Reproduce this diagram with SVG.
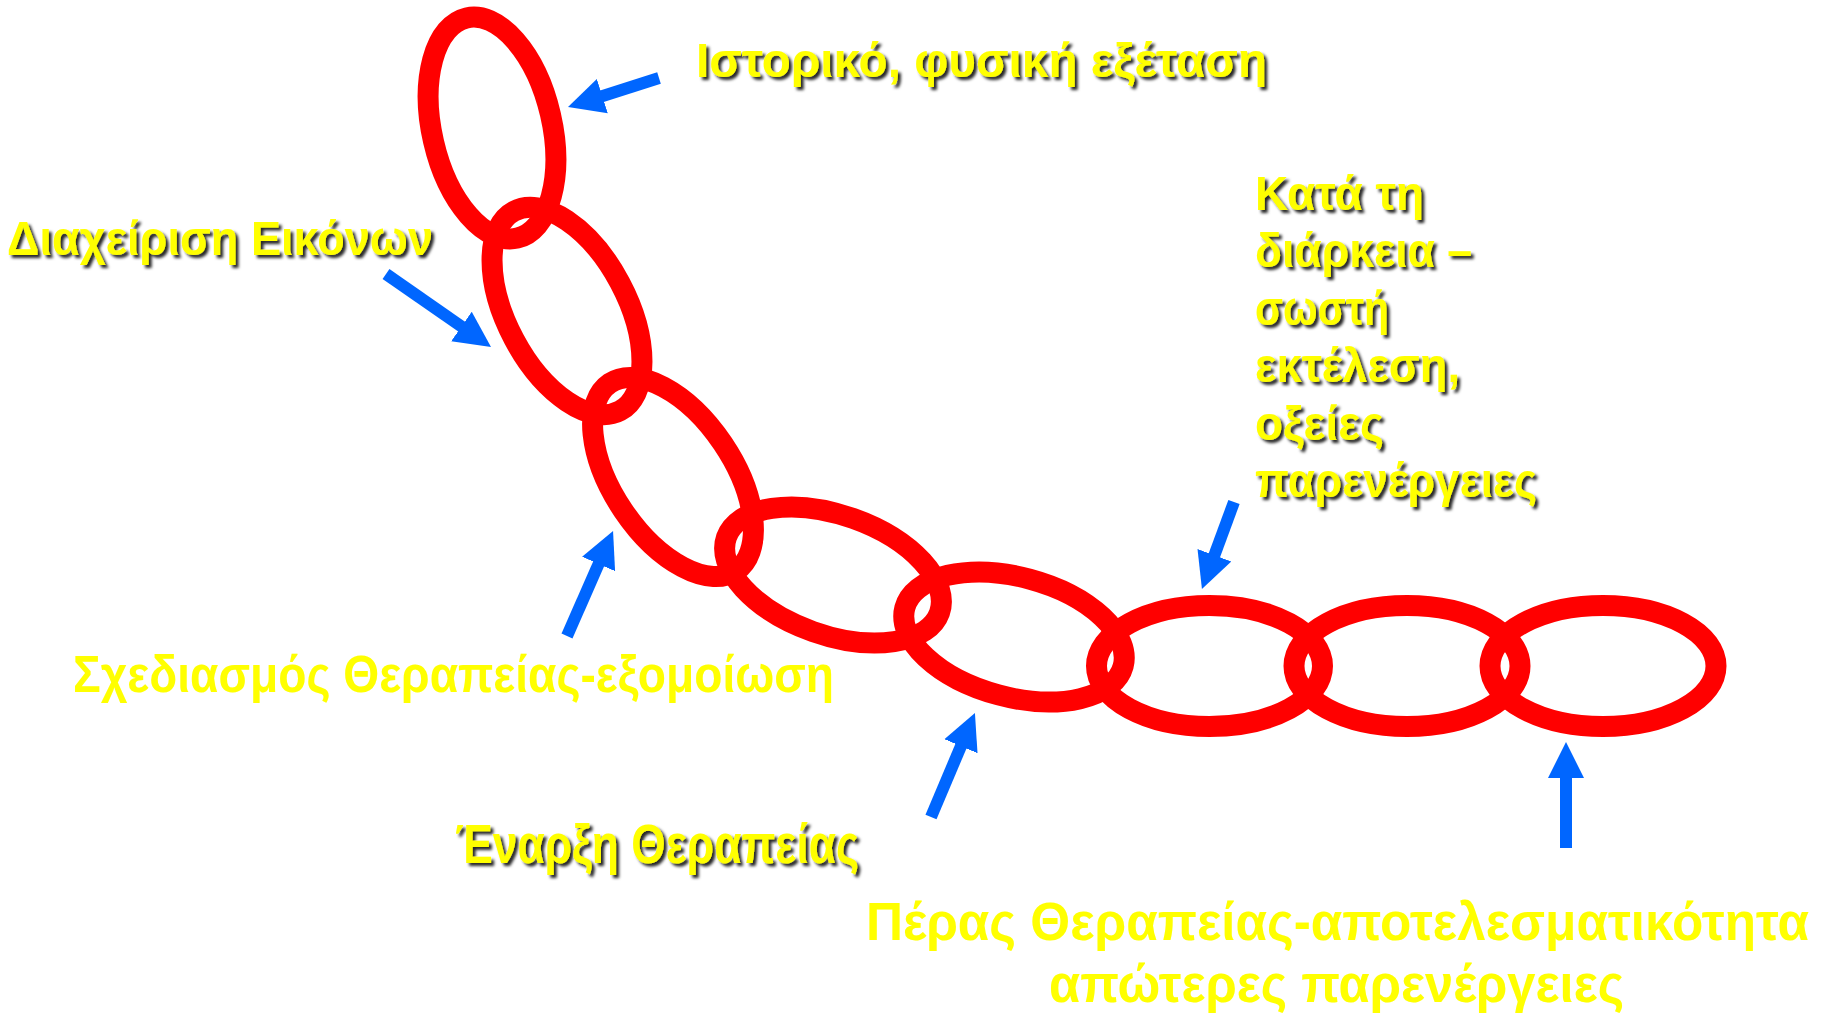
<svg xmlns="http://www.w3.org/2000/svg" width="1829" height="1015" viewBox="0 0 1829 1015">
  <style>
    .ring { fill: none; stroke: #FF0000; stroke-width: 21; }
    .lbl { font-family: "Liberation Sans", Arial, sans-serif; font-weight: bold; fill: #FFFF00; }
    .sh { filter: url(#shadow); }
    .arr { stroke: #0066FF; stroke-width: 12; fill: none; marker-end: url(#head); }
  </style>
  <defs>
    <filter id="shadow" x="-10%" y="-30%" width="120%" height="160%">
      <feDropShadow dx="3" dy="3" stdDeviation="1.4" flood-color="#000000" flood-opacity="0.85"/>
    </filter>
    <marker id="head" markerUnits="userSpaceOnUse" markerWidth="40" markerHeight="40" viewBox="0 -20 40 40" refX="2" refY="0" orient="auto">
      <path d="M0,-18 L36,0 L0,18 Z" fill="#0066FF"/>
    </marker>
  </defs>
  <rect width="1829" height="1015" fill="#FFFFFF"/>

  <g id="chain">
    <g id="ring1"><ellipse class="ring" cx="0" cy="0" rx="113" ry="60" transform="translate(492,128) rotate(77)"/></g>
    <g id="ring2"><ellipse class="ring" cx="0" cy="0" rx="113" ry="60" transform="translate(567,311) rotate(62)"/></g>
    <g id="ring3"><ellipse class="ring" cx="0" cy="0" rx="113" ry="60" transform="translate(673,477) rotate(56)"/></g>
    <g id="ring4"><ellipse class="ring" cx="0" cy="0" rx="113" ry="60" transform="translate(833,575) rotate(19.5)"/></g>
    <g id="ring5"><ellipse class="ring" cx="0" cy="0" rx="113" ry="60" transform="translate(1014,637) rotate(15)"/></g>
    <g id="ring6"><ellipse class="ring" cx="1209.5" cy="666" rx="113" ry="60.5"/></g>
    <g id="ring7"><ellipse class="ring" cx="1407" cy="666" rx="113" ry="60.5"/></g>
    <g id="ring8"><ellipse class="ring" cx="1603" cy="666" rx="113" ry="60.5"/></g>
  </g>

  <g id="connectors">
    <line class="arr" x1="659" y1="78" x2="600.4" y2="96.7"/>
    <line class="arr" x1="386" y1="274" x2="463.1" y2="327.6"/>
    <line class="arr" x1="567" y1="636" x2="599.4" y2="562.1"/>
    <line class="arr" x1="931" y1="817" x2="961.7" y2="744.3"/>
    <line class="arr" x1="1234" y1="502" x2="1213.7" y2="557.1"/>
    <line class="arr" x1="1566" y1="848" x2="1566" y2="776"/>
  </g>

  <g id="label-istoriko">
    <text class="lbl sh" x="696" y="77" font-size="48" textLength="571" lengthAdjust="spacingAndGlyphs">Ιστορικό, φυσική εξέταση</text>
  </g>
  <g id="label-diaxeirisi">
    <text class="lbl sh" x="7" y="255" font-size="49" textLength="426" lengthAdjust="spacingAndGlyphs">Διαχείριση Εικόνων</text>
  </g>
  <g id="label-sxediasmos">
    <text class="lbl" x="73" y="692" font-size="52" textLength="761" lengthAdjust="spacingAndGlyphs">Σχεδιασμός Θεραπείας-εξομοίωση</text>
  </g>
  <g id="label-enarxi">
    <text class="lbl sh" x="455" y="863" font-size="56" textLength="404" lengthAdjust="spacingAndGlyphs">Έναρξη Θεραπείας</text>
  </g>
  <g id="label-kata">
    <text class="lbl sh" x="1255" y="210" font-size="49" textLength="169" lengthAdjust="spacingAndGlyphs">Κατά τη</text>
    <text class="lbl sh" x="1255" y="267.4" font-size="49" textLength="217" lengthAdjust="spacingAndGlyphs">διάρκεια –</text>
    <text class="lbl sh" x="1255" y="324.8" font-size="49" textLength="134" lengthAdjust="spacingAndGlyphs">σωστή</text>
    <text class="lbl sh" x="1255" y="382.2" font-size="49" textLength="205" lengthAdjust="spacingAndGlyphs">εκτέλεση,</text>
    <text class="lbl sh" x="1255" y="439.6" font-size="49" textLength="129" lengthAdjust="spacingAndGlyphs">οξείες</text>
    <text class="lbl sh" x="1255" y="497" font-size="49" textLength="282" lengthAdjust="spacingAndGlyphs">παρενέργειες</text>
  </g>
  <g id="label-peras">
    <text class="lbl" transform="translate(866,940) scale(0.88,1)" x="0" y="0" font-size="54" textLength="1071.6" lengthAdjust="spacingAndGlyphs">Πέρας Θεραπείας-αποτελεσματικότητα</text>
    <text class="lbl" x="1049" y="1002" font-size="53" textLength="575" lengthAdjust="spacingAndGlyphs">απώτερες παρενέργειες</text>
  </g>
</svg>
